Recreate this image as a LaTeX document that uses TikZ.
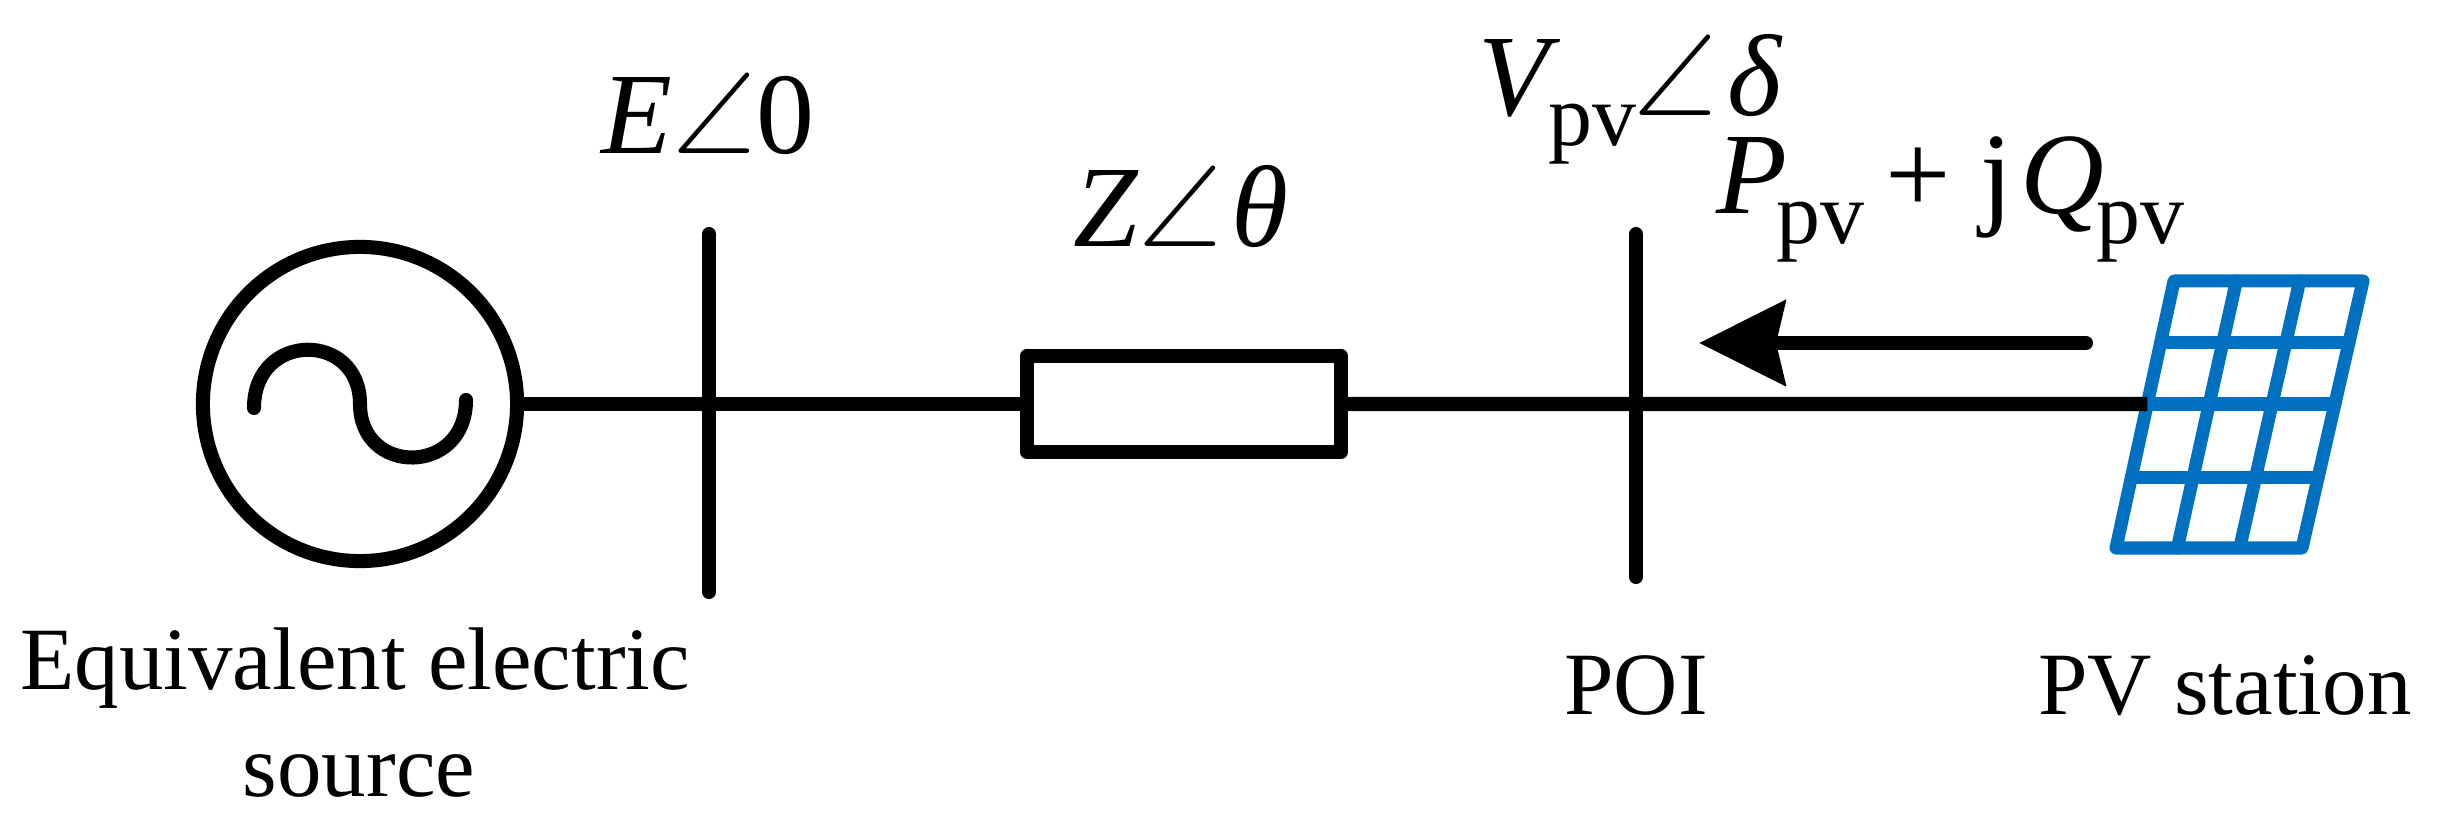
\documentclass[tikz,border=0pt]{standalone}
\usepackage{amssymb}
\usepackage{fontspec}
\usepackage{xcolor}
\setmainfont{Liberation Serif}
\usetikzlibrary{arrows.meta,calc}
\definecolor{pvblue}{RGB}{0, 112, 192}
\newcommand{\subpv}{\raisebox{-8.5pt}{\fontsize{25}{25}\selectfont pv}}
\newcommand{\angsym}{\ensuremath{\angle}}
\tikzset{
  wire/.style={line width=4pt,line cap=round,line join=round},
  caption/.style={font=\fontsize{25.3}{30}\selectfont,inner sep=0pt,anchor=base},
  quantity/.style={font=\fontsize{33}{38}\selectfont,inner sep=0pt,anchor=base},
  panelline/.style={pvblue,line width=3.7pt,line cap=round,line join=round}
}
\begin{document}
\begin{tikzpicture}[x=0.01cm,y=-0.01cm]
                \useasboundingbox (0,0) rectangle (2439,825);

                % Source
                \node[wire,draw,circle,inner sep=0pt,outer sep=0pt,minimum size=3.14cm] (source) at (360,404) {};
                \draw[wire] (254,408) .. controls (254,331) and (360,331) .. (360,404)
                                      .. controls (360,476) and (466,476) .. (466,400);

                % Impedance
                \node[wire,draw,rectangle,inner sep=0pt,outer sep=0pt,minimum width=3.14cm,minimum height=0.96cm] (impedance) at (1184,404) {};

                % Buses
                \coordinate (busEtop) at (709,234);
                \coordinate (busEbot) at (709,592);
                \coordinate (poitop) at (1636,234);
                \coordinate (poibot) at (1636,577);
                \draw[wire] (busEtop) -- (busEbot);
                \draw[wire] (poitop) -- (poibot);

                % PV panel
                \coordinate (pvtl) at (2174,281);
                \coordinate (pvtr) at (2363,281);
                \coordinate (pvbr) at (2302,548);
                \coordinate (pvbl) at (2116,548);
                \draw[panelline] (pvtl) -- (pvtr) -- (pvbr) -- (pvbl) -- cycle;
                \foreach \r in {0.23,0.4607,0.735}
                    \draw[panelline] ($(pvtl)!\r!(pvbl)$) -- ($(pvtr)!\r!(pvbr)$);
                \foreach \c in {0.33,0.665}
                    \draw[panelline] ($(pvtl)!\c!(pvtr)$) -- ($(pvbl)!\c!(pvbr)$);

                % Line
                \coordinate (pvin) at ($(pvtl)!0.4607!(pvbl)$);
                \draw[wire,line cap=butt] (source.east) -- (impedance.west);
                \draw[wire,line cap=butt] (impedance.east) -- (pvin);

                % Power flow
                \coordinate (flowstart) at (2086,343);
                \coordinate (flowend) at (1699,343);
                \draw[wire,-{Stealth[length=0.86cm,width=0.84cm,inset=0.09cm]}] (flowstart) -- (flowend);

                % Labels
                \node[quantity] (elabel) at (708,154) {\textit{E}\angsym 0};
                \node[quantity] (zlabel) at (1181,247) {\textit{Z}\angsym\kern2.5pt\textit{θ}};
                \node[quantity,anchor=base west] (vlabel) at (1478,116) {\textit{V}\kern-3.5pt\subpv\kern-0.8pt\angsym\kern3pt\textit{δ}};
                \node[quantity,anchor=base west] (plabel) at (1716,214) {\textit{P}\kern-3.1pt\subpv\kern6pt+ j\kern2.3pt\textit{Q}\kern-2.3pt\subpv};
                \node[caption] (eqlabel) at (355,690) {Equivalent electric};
                \node[caption] (srclabel) at (359,797) {source};
                \node[caption] (poilabel) at (1636,715) {POI};
                \node[caption] (pvlabel) at (2225,715) {PV station};
            \end{tikzpicture}
\end{document}
